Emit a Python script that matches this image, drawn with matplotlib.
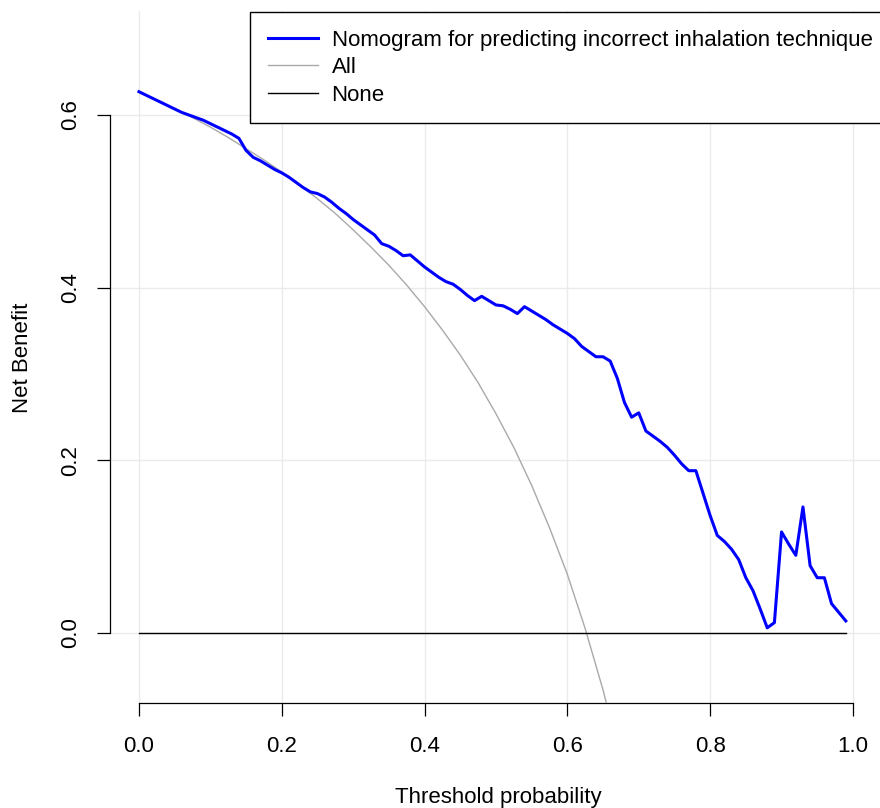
import matplotlib
matplotlib.use("Agg")
import matplotlib.pyplot as plt

plt.rcParams['font.family'] = ['Liberation Sans', 'DejaVu Sans']

# Threshold probabilities for the model and "None" curves
thresholds = [i / 100 for i in range(100)]

# Net benefit of the nomogram
nomogram_nb = [
    0.627, 0.623, 0.619, 0.615, 0.611, 0.607, 0.603, 0.600, 0.597, 0.594,
    0.590, 0.586, 0.582, 0.578, 0.573, 0.559, 0.551, 0.547, 0.542, 0.537,
    0.533, 0.528, 0.522, 0.516, 0.511, 0.509, 0.505, 0.499, 0.492, 0.486,
    0.479, 0.473, 0.467, 0.461, 0.451, 0.448, 0.443, 0.437, 0.438, 0.431,
    0.424, 0.418, 0.412, 0.407, 0.404, 0.398, 0.391, 0.385, 0.390, 0.385,
    0.380, 0.379, 0.375, 0.370, 0.378, 0.373, 0.368, 0.363, 0.357, 0.352,
    0.347, 0.341, 0.332, 0.326, 0.320, 0.320, 0.315, 0.295, 0.267, 0.250,
    0.255, 0.234, 0.228, 0.222, 0.215, 0.206, 0.196, 0.188, 0.188, 0.162,
    0.136, 0.113, 0.106, 0.097, 0.085, 0.064, 0.049, 0.028, 0.006, 0.012,
    0.117, 0.103, 0.090, 0.146, 0.078, 0.064, 0.064, 0.034, 0.024, 0.014,
]

# "Treat all" curve
all_x = [0.0, 0.025, 0.05, 0.075, 0.1, 0.125, 0.15, 0.175, 0.2, 0.225,
         0.25, 0.275, 0.3, 0.325, 0.35, 0.375, 0.4, 0.425, 0.45, 0.475,
         0.5, 0.525, 0.55, 0.575, 0.6, 0.625, 0.65, 0.675, 0.7]
all_nb = [0.627, 0.617, 0.607, 0.597, 0.586, 0.574, 0.561, 0.548, 0.534, 0.519,
          0.503, 0.486, 0.467, 0.447, 0.426, 0.403, 0.378, 0.351, 0.322, 0.290,
          0.254, 0.215, 0.171, 0.122, 0.068, 0.005, -0.066, -0.148, -0.243]

none_nb = [0.0 for _ in thresholds]

x_ticks = [0.0, 0.2, 0.4, 0.6, 0.8, 1.0]
y_ticks = [0.0, 0.2, 0.4, 0.6]
labels = ["Nomogram for predicting incorrect inhalation technique", "All", "None"]

FS = 16
W, H = 880, 808
fig = plt.figure(figsize=(W / 100, H / 100), dpi=100)
# plot region in pixels
left_px, right_px = 110.4, 881.5
top_px, bottom_px = 11.0, 703.0
ax = fig.add_axes([left_px / W, 1 - bottom_px / H,
                   (right_px - left_px) / W, (bottom_px - top_px) / H])
ax.set_xlim(-0.04, 1.04)
ax.set_ylim(-0.0811, 0.7205)

ax.set_xticks(x_ticks)
ax.set_yticks(y_ticks)
ax.grid(True, color='#EBEBEB', linewidth=1.0)
ax.set_axisbelow(True)

l1, = ax.plot(thresholds, nomogram_nb, color='#0000FF', linewidth=2.2, zorder=4)
l2, = ax.plot(all_x, all_nb, color='#A9A9A9', linewidth=1.0, zorder=3)
l3, = ax.plot(thresholds, none_nb, color='black', linewidth=1.0, zorder=3)

for s in ['top', 'right']:
    ax.spines[s].set_visible(False)
ax.spines['left'].set_bounds(0, 0.6)
ax.spines['bottom'].set_bounds(0, 1.0)
for s in ['left', 'bottom']:
    ax.spines[s].set_linewidth(0.9)
    ax.spines[s].set_color('black')

ax.tick_params(axis='both', direction='out', length=9.4, width=0.9,
               labelsize=FS, color='black')
ax.tick_params(axis='x', pad=14)
ax.tick_params(axis='y', pad=12)
ax.set_xticklabels(["%.1f" % v for v in x_ticks])
ax.set_yticklabels(["%.1f" % v for v in y_ticks], rotation=90, va='center')

fig.text(23 / W, 1 - 358 / H, "Net Benefit", rotation=90, ha='center',
         va='center', fontsize=FS)
fig.text(498 / W, 1 - 797 / H, "Threshold probability", ha='center',
         va='center', fontsize=FS)

leg = ax.legend([l1, l2, l3], labels, loc='upper left',
                bbox_to_anchor=(250 / W, 1 - 12 / H),
                bbox_transform=fig.transFigure, fontsize=FS,
                fancybox=False, framealpha=1, edgecolor='black',
                handlelength=2.25, handletextpad=0.62, labelspacing=0.29,
                borderpad=0.8, borderaxespad=0)
leg.get_frame().set_linewidth(1.0)
leg.set_zorder(10)

fig.savefig("out.png", dpi=100)
